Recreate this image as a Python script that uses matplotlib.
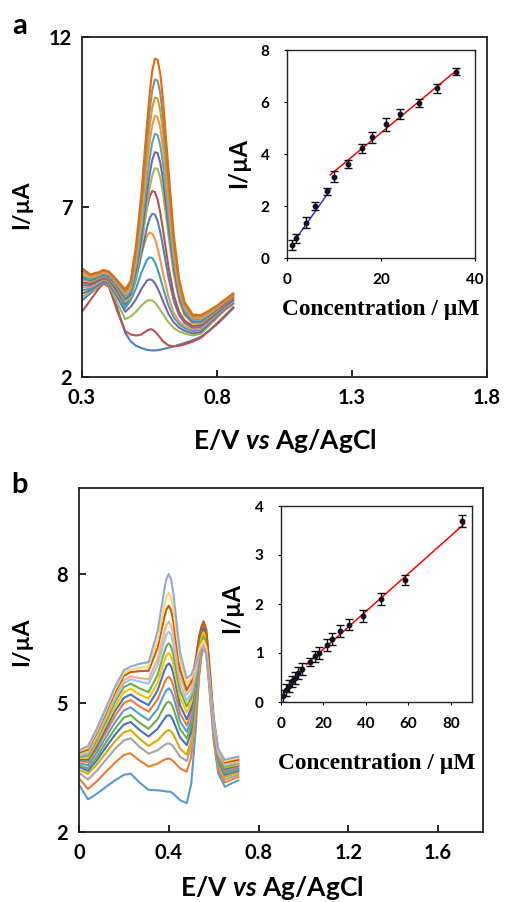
import matplotlib
matplotlib.use("Agg")
import matplotlib.pyplot as plt

plt.rcParams['font.family'] = ['Lato', 'DejaVu Sans']
plt.rcParams['mathtext.fontset'] = 'custom'
plt.rcParams['mathtext.rm'] = 'Lato:bold'
plt.rcParams['mathtext.it'] = 'Lato:italic:bold'
plt.rcParams['mathtext.bf'] = 'Lato:bold'

# ---------------- Panel a : DPV curves ----------------
E_a = [0.30, 0.33, 0.36, 0.38, 0.40, 0.43, 0.46, 0.48, 0.50, 0.52, 0.54, 0.55, 0.56, 0.57,
       0.58, 0.59, 0.60, 0.62, 0.64, 0.66, 0.68, 0.71, 0.74, 0.77, 0.80, 0.83, 0.86]
a00 = [4.25, 4.45, 4.65, 4.76, 4.68, 4.05, 3.30, 3.05, 2.92, 2.85, 2.80, 2.79, 2.78, 2.78, 2.79, 2.80, 2.82, 2.86, 2.90, 2.95, 3.00, 3.08, 3.18, 3.35, 3.55, 3.78, 4.02]
a01 = [3.92, 4.25, 4.58, 4.75, 4.65, 3.95, 3.35, 3.25, 3.22, 3.25, 3.36, 3.40, 3.40, 3.34, 3.25, 3.15, 3.05, 2.93, 2.90, 2.92, 2.96, 3.04, 3.15, 3.36, 3.58, 3.81, 4.05]
a02 = [4.35, 4.50, 4.66, 4.79, 4.70, 4.20, 3.70, 3.78, 3.92, 4.10, 4.24, 4.26, 4.25, 4.19, 4.09, 3.97, 3.85, 3.61, 3.44, 3.34, 3.28, 3.22, 3.27, 3.50, 3.74, 3.97, 4.14]
a03 = [4.45, 4.55, 4.70, 4.81, 4.74, 4.36, 3.92, 4.06, 4.29, 4.59, 4.83, 4.87, 4.85, 4.76, 4.61, 4.43, 4.23, 3.86, 3.60, 3.45, 3.36, 3.28, 3.32, 3.55, 3.78, 4.00, 4.17]
a04 = [4.55, 4.60, 4.74, 4.84, 4.78, 4.42, 4.02, 4.25, 4.60, 5.07, 5.44, 5.52, 5.50, 5.37, 5.17, 4.91, 4.62, 4.11, 3.75, 3.55, 3.44, 3.35, 3.38, 3.60, 3.82, 4.03, 4.20]
a05 = [4.63, 4.65, 4.78, 4.87, 4.81, 4.47, 4.12, 4.46, 4.96, 5.61, 6.13, 6.25, 6.22, 6.06, 5.79, 5.44, 5.06, 4.36, 3.89, 3.63, 3.50, 3.40, 3.43, 3.64, 3.85, 4.05, 4.23]
a06 = [4.70, 4.70, 4.82, 4.90, 4.84, 4.52, 4.12, 4.34, 4.87, 5.61, 6.38, 6.66, 6.80, 6.78, 6.59, 6.26, 5.84, 4.94, 4.23, 3.81, 3.59, 3.45, 3.48, 3.68, 3.88, 4.08, 4.26]
a07 = [4.78, 4.75, 4.85, 4.93, 4.88, 4.57, 4.19, 4.47, 5.11, 6.01, 6.96, 7.29, 7.47, 7.44, 7.22, 6.83, 6.33, 5.26, 4.41, 3.91, 3.66, 3.50, 3.53, 3.72, 3.92, 4.12, 4.30]
a08 = [4.85, 4.80, 4.89, 4.97, 4.92, 4.63, 4.21, 4.34, 4.95, 5.84, 7.00, 7.53, 7.93, 8.14, 8.12, 7.86, 7.41, 6.18, 5.02, 4.23, 3.81, 3.57, 3.58, 3.76, 3.95, 4.15, 4.34]
a09 = [4.92, 4.84, 4.93, 5.00, 4.95, 4.68, 4.29, 4.43, 5.10, 6.08, 7.35, 7.94, 8.38, 8.61, 8.59, 8.30, 7.81, 6.47, 5.20, 4.33, 3.88, 3.62, 3.63, 3.80, 3.98, 4.17, 4.36]
a10 = [4.98, 4.88, 4.96, 5.04, 4.99, 4.72, 4.36, 4.52, 5.26, 6.35, 7.75, 8.40, 8.89, 9.15, 9.12, 8.81, 8.27, 6.80, 5.40, 4.45, 3.96, 3.68, 3.68, 3.84, 4.02, 4.22, 4.42]
a11 = [5.05, 4.93, 5.00, 5.08, 5.03, 4.76, 4.43, 4.61, 5.42, 6.61, 8.15, 8.86, 9.40, 9.68, 9.65, 9.32, 8.73, 7.12, 5.59, 4.56, 4.03, 3.73, 3.73, 3.87, 4.03, 4.21, 4.40]
a12 = [5.12, 4.97, 5.04, 5.12, 5.06, 4.80, 4.49, 4.69, 5.57, 6.87, 8.55, 9.33, 9.91, 10.22, 10.19, 9.83, 9.19, 7.44, 5.79, 4.67, 4.09, 3.77, 3.77, 3.90, 4.06, 4.24, 4.42]
a13 = [5.17, 5.00, 5.06, 5.13, 5.08, 4.82, 4.53, 4.75, 5.71, 7.12, 8.94, 9.78, 10.42, 10.75, 10.72, 10.33, 9.64, 7.76, 5.97, 4.77, 4.15, 3.80, 3.80, 3.93, 4.08, 4.26, 4.44]
a14 = [5.20, 5.02, 5.08, 5.15, 5.10, 4.85, 4.58, 4.82, 5.87, 7.40, 9.39, 10.30, 11.00, 11.36, 11.33, 10.91, 10.16, 8.12, 6.18, 4.87, 4.20, 3.84, 3.82, 3.95, 4.10, 4.28, 4.46]
colors_a = ['#4F81BD', '#C0504D', '#9BBB59', '#8064A2', '#3BA3BD', '#F79646',
            '#4F81BD', '#C0504D', '#9BBB59', '#8064A2', '#4BACC6', '#F79646',
            '#C9A227', '#8C8C8C', '#E46C0A']

# inset a : calibration
conc_a = [1, 2, 4, 6, 8.5, 10, 13, 16, 18, 21, 24, 28, 32, 36]
cur_a = [0.50, 0.76, 1.36, 2.00, 2.56, 3.13, 3.62, 4.22, 4.64, 5.15, 5.54, 5.97, 6.53, 7.17]
err_a = [0.20, 0.18, 0.20, 0.16, 0.15, 0.20, 0.15, 0.18, 0.20, 0.25, 0.20, 0.16, 0.18, 0.15]
fitA_blue_x = [1.8, 9.2]
fitA_blue_y = [0.71, 2.62]
fitA_red_x = [9.2, 36.5]
fitA_red_y = [3.20, 7.28]

# ---------------- Panel b : DPV curves ----------------
E_b = [0.00, 0.04, 0.08, 0.12, 0.16, 0.20, 0.23, 0.27, 0.31, 0.35, 0.38, 0.39, 0.40, 0.41, 0.42,
       0.45, 0.48, 0.50, 0.52, 0.535, 0.545, 0.555, 0.567, 0.58, 0.60, 0.62, 0.65, 0.68, 0.71]
b00 = [3.10, 2.76, 2.89, 3.05, 3.20, 3.33, 3.36, 3.15, 2.98, 2.97, 2.95, 2.94, 2.94, 2.93, 2.89, 2.74, 2.67, 3.12, 4.37, 5.62, 6.15, 6.45, 6.27, 5.46, 4.14, 3.37, 3.05, 3.13, 3.20]
b01 = [3.25, 3.00, 3.18, 3.40, 3.61, 3.79, 3.83, 3.66, 3.52, 3.59, 3.68, 3.70, 3.71, 3.69, 3.65, 3.48, 3.40, 3.75, 4.71, 5.66, 6.07, 6.30, 6.13, 5.39, 4.16, 3.45, 3.15, 3.22, 3.28]
b02 = [3.38, 3.22, 3.43, 3.68, 3.93, 4.13, 4.18, 3.98, 3.82, 3.90, 4.02, 4.05, 4.06, 4.04, 3.99, 3.75, 3.65, 3.99, 4.93, 5.87, 6.27, 6.50, 6.32, 5.55, 4.27, 3.53, 3.22, 3.28, 3.33]
b03 = [3.45, 3.35, 3.57, 3.84, 4.11, 4.32, 4.37, 4.17, 4.00, 4.13, 4.30, 4.35, 4.37, 4.34, 4.27, 3.94, 3.80, 4.14, 5.06, 5.98, 6.38, 6.60, 6.42, 5.64, 4.34, 3.60, 3.28, 3.33, 3.38]
b04 = [3.52, 3.42, 3.67, 3.97, 4.26, 4.50, 4.56, 4.37, 4.22, 4.40, 4.63, 4.70, 4.72, 4.69, 4.59, 4.20, 4.02, 4.34, 5.23, 6.11, 6.49, 6.70, 6.52, 5.72, 4.41, 3.65, 3.33, 3.38, 3.42]
b05 = [3.55, 3.48, 3.75, 4.08, 4.40, 4.66, 4.72, 4.54, 4.40, 4.62, 4.92, 5.00, 5.03, 4.99, 4.88, 4.39, 4.18, 4.47, 5.27, 6.07, 6.41, 6.60, 6.43, 5.66, 4.40, 3.68, 3.37, 3.41, 3.45]
b06 = [3.60, 3.55, 3.85, 4.20, 4.55, 4.83, 4.90, 4.74, 4.60, 4.86, 5.21, 5.30, 5.34, 5.29, 5.16, 4.58, 4.33, 4.60, 5.33, 6.06, 6.37, 6.55, 6.38, 5.64, 4.41, 3.70, 3.40, 3.44, 3.48]
b07 = [3.65, 3.62, 3.94, 4.32, 4.69, 5.00, 5.07, 4.92, 4.80, 5.08, 5.46, 5.57, 5.61, 5.55, 5.41, 4.76, 4.48, 4.76, 5.55, 6.33, 6.66, 6.85, 6.67, 5.86, 4.53, 3.76, 3.44, 3.48, 3.52]
b08 = [3.68, 3.68, 4.01, 4.41, 4.81, 5.12, 5.20, 5.06, 4.95, 5.29, 5.75, 5.87, 5.92, 5.86, 5.69, 4.95, 4.62, 4.88, 5.58, 6.28, 6.58, 6.75, 6.57, 5.80, 4.52, 3.78, 3.47, 3.51, 3.55]
b09 = [3.72, 3.73, 4.08, 4.50, 4.91, 5.25, 5.33, 5.20, 5.10, 5.47, 5.97, 6.11, 6.16, 6.09, 5.91, 5.13, 4.78, 5.00, 5.62, 6.24, 6.50, 6.65, 6.48, 5.74, 4.51, 3.80, 3.50, 3.54, 3.57]
b10 = [3.75, 3.78, 4.15, 4.58, 5.02, 5.37, 5.45, 5.34, 5.25, 5.65, 6.19, 6.33, 6.39, 6.32, 6.13, 5.29, 4.92, 5.12, 5.65, 6.19, 6.42, 6.55, 6.39, 5.67, 4.49, 3.81, 3.52, 3.56, 3.60]
b11 = [3.78, 3.83, 4.21, 4.66, 5.10, 5.46, 5.55, 5.50, 5.45, 5.87, 6.44, 6.60, 6.66, 6.58, 6.37, 5.45, 5.05, 5.22, 5.68, 6.14, 6.34, 6.45, 6.29, 5.61, 4.48, 3.83, 3.55, 3.59, 3.62]
b12 = [3.82, 3.88, 4.26, 4.72, 5.17, 5.53, 5.62, 5.58, 5.55, 6.02, 6.65, 6.82, 6.89, 6.81, 6.59, 5.62, 5.20, 5.34, 5.74, 6.14, 6.30, 6.40, 6.25, 5.58, 4.48, 3.85, 3.58, 3.62, 3.65]
b13 = [3.85, 3.92, 4.32, 4.78, 5.25, 5.63, 5.72, 5.74, 5.75, 6.28, 6.99, 7.18, 7.26, 7.16, 6.91, 5.79, 5.30, 5.49, 6.02, 6.55, 6.77, 6.90, 6.72, 5.95, 4.67, 3.93, 3.62, 3.65, 3.68]
b14 = [3.88, 3.96, 4.36, 4.83, 5.31, 5.69, 5.78, 5.82, 5.85, 6.45, 7.26, 7.48, 7.57, 7.46, 7.19, 5.98, 5.45, 5.57, 5.90, 6.23, 6.37, 6.45, 6.30, 5.64, 4.55, 3.92, 3.65, 3.69, 3.72]
b15 = [3.90, 4.00, 4.41, 4.89, 5.37, 5.76, 5.85, 5.91, 5.95, 6.67, 7.63, 7.90, 8.00, 7.88, 7.56, 6.18, 5.57, 5.66, 5.90, 6.14, 6.24, 6.30, 6.16, 5.54, 4.52, 3.93, 3.68, 3.72, 3.75]
colors_b = ['#5B9BD5', '#ED7D31', '#A5A5A5', '#E0A800', '#4472C4', '#70AD47',
            '#5B9BD5', '#ED7D31', '#4472C4', '#FFC000', '#70AD47', '#9DC3E6',
            '#F4B183', '#C55A11', '#FFD966', '#8FAADC']

# inset b : calibration
conc_b = [1, 2.5, 4, 5, 6.5, 8, 10, 13.5, 16, 18, 21.5, 24, 28, 32, 38.5, 47, 58.5, 85.5]
cur_b = [0.13, 0.25, 0.33, 0.42, 0.49, 0.59, 0.68, 0.81, 0.93, 1.00, 1.16, 1.28, 1.45, 1.58, 1.76, 2.10, 2.49, 3.69]
err_b = [0.12, 0.12, 0.12, 0.12, 0.12, 0.12, 0.12, 0.08, 0.12, 0.12, 0.12, 0.12, 0.12, 0.12, 0.12, 0.12, 0.10, 0.12]
fitB_blue_x = [0.5, 10.4]
fitB_blue_y = [0.12, 0.67]
fitB_red_x = [12.0, 86.5]
fitB_red_y = [0.77, 3.64]

W, H = 506, 902
fig = plt.figure(figsize=(W / 100, H / 100), dpi=100)


def rect(x0, y0, x1, y1):
    return [x0 / W, 1 - y1 / H, (x1 - x0) / W, (y1 - y0) / H]


def style_main(ax):
    for s in ax.spines.values():
        s.set_linewidth(1.3)
        s.set_color('#222222')
    ax.tick_params(direction='in', length=5, width=1.2, labelsize=14.5)
    for lab in ax.get_xticklabels() + ax.get_yticklabels():
        lab.set_fontweight('bold')


def style_inset(ax):
    for s in ax.spines.values():
        s.set_linewidth(1.0)
        s.set_color('#222222')
    ax.tick_params(direction='out', length=2.5, width=0.8, labelsize=11)
    ax.tick_params(axis='y', pad=10)
    ax.tick_params(axis='x', pad=8)
    for lab in ax.get_xticklabels() + ax.get_yticklabels():
        lab.set_fontweight('bold')


# ---- panel a main ----
axA = fig.add_axes(rect(82, 37, 487, 377))
for ys, c in zip([a00, a01, a02, a03, a04, a05, a06, a07, a08, a09, a10, a11, a12, a13, a14], colors_a):
    axA.plot(E_a, ys, color=c, lw=1.5, solid_joinstyle='round')
axA.set_xlim(0.3, 1.8)
axA.set_ylim(2, 12)
axA.set_xticks([0.3, 0.8, 1.3, 1.8])
axA.set_xticklabels(['0.3', '0.8', '1.3', '1.8'])
axA.set_yticks([2, 7, 12])
axA.set_yticklabels(['2', '7', '12'])
style_main(axA)
axA.tick_params(axis='x', pad=8)
axA.tick_params(axis='y', pad=7)

# ---- inset a ----
inA = fig.add_axes(rect(287, 50, 475, 258))
inA.plot(fitA_blue_x, fitA_blue_y, color='#3333CC', lw=1.1)
inA.plot(fitA_red_x, fitA_red_y, color='#FF0000', lw=1.1)
inA.errorbar(conc_a, cur_a, yerr=err_a, fmt='o', ms=3.2, color='#111122',
             ecolor='#111111', elinewidth=1.0, capsize=3.2, capthick=1.0)
inA.set_xlim(0, 40)
inA.set_ylim(0, 8)
inA.set_xticks([0, 20, 40])
inA.set_yticks([0, 2, 4, 6, 8])
style_inset(inA)

# ---- panel b main ----
axB = fig.add_axes(rect(79, 488, 483, 832))
for ys, c in zip([b00, b01, b02, b03, b04, b05, b06, b07, b08, b09, b10, b11, b12, b13, b14, b15], colors_b):
    axB.plot(E_b, ys, color=c, lw=1.5, solid_joinstyle='round')
axB.set_xlim(0, 1.8)
axB.set_ylim(2, 10)
axB.set_xticks([0, 0.4, 0.8, 1.2, 1.6])
axB.set_xticklabels(['0', '0.4', '0.8', '1.2', '1.6'])
axB.set_yticks([2, 5, 8])
axB.set_yticklabels(['2', '5', '8'])
style_main(axB)
axB.tick_params(axis='x', pad=8)
axB.tick_params(axis='y', pad=8)

# ---- inset b ----
inB = fig.add_axes(rect(281, 506, 472, 702))
inB.plot(fitB_blue_x, fitB_blue_y, color='#3333CC', lw=1.1)
inB.plot(fitB_red_x, fitB_red_y, color='#FF0000', lw=1.1)
inB.errorbar(conc_b, cur_b, yerr=err_b, fmt='o', ms=3.2, color='#111122',
             ecolor='#111111', elinewidth=1.0, capsize=3.2, capthick=1.0)
inB.set_xlim(0, 90)
inB.set_ylim(0, 4)
inB.set_xticks([0, 20, 40, 60, 80])
inB.set_yticks([0, 1, 2, 3, 4])
style_inset(inB)

# ---- texts ----
def ftext(x, y, s, **kw):
    fig.text(x / W, 1 - y / H, s, ha='center', va='center', **kw)

ftext(20, 26, 'a', fontsize=21, fontweight='bold')
ftext(20, 485, 'b', fontsize=21, fontweight='bold')
ftext(22, 205, 'I/\u00b5A', fontsize=16.5, fontweight='bold', rotation=90)
ftext(22, 642, 'I/\u00b5A', fontsize=16.5, fontweight='bold', rotation=90)
ftext(285, 441, r'E/V $\mathit{vs}$ Ag/AgCl', fontsize=19, fontweight='bold')
ftext(272, 888, r'E/V $\mathit{vs}$ Ag/AgCl', fontsize=19, fontweight='bold')
ftext(239, 163, 'I/\u00b5A', fontsize=17, fontweight='bold', rotation=90)
ftext(232, 608, 'I/\u00b5A', fontsize=17, fontweight='bold', rotation=90)
ftext(381, 309, 'Concentration / \u00b5M', fontsize=16.8, fontweight='bold',
      family=['Liberation Serif', 'DejaVu Serif'])
ftext(377, 763, 'Concentration / \u00b5M', fontsize=16.8, fontweight='bold',
      family=['Liberation Serif', 'DejaVu Serif'])

fig.savefig('out.png', dpi=100)
